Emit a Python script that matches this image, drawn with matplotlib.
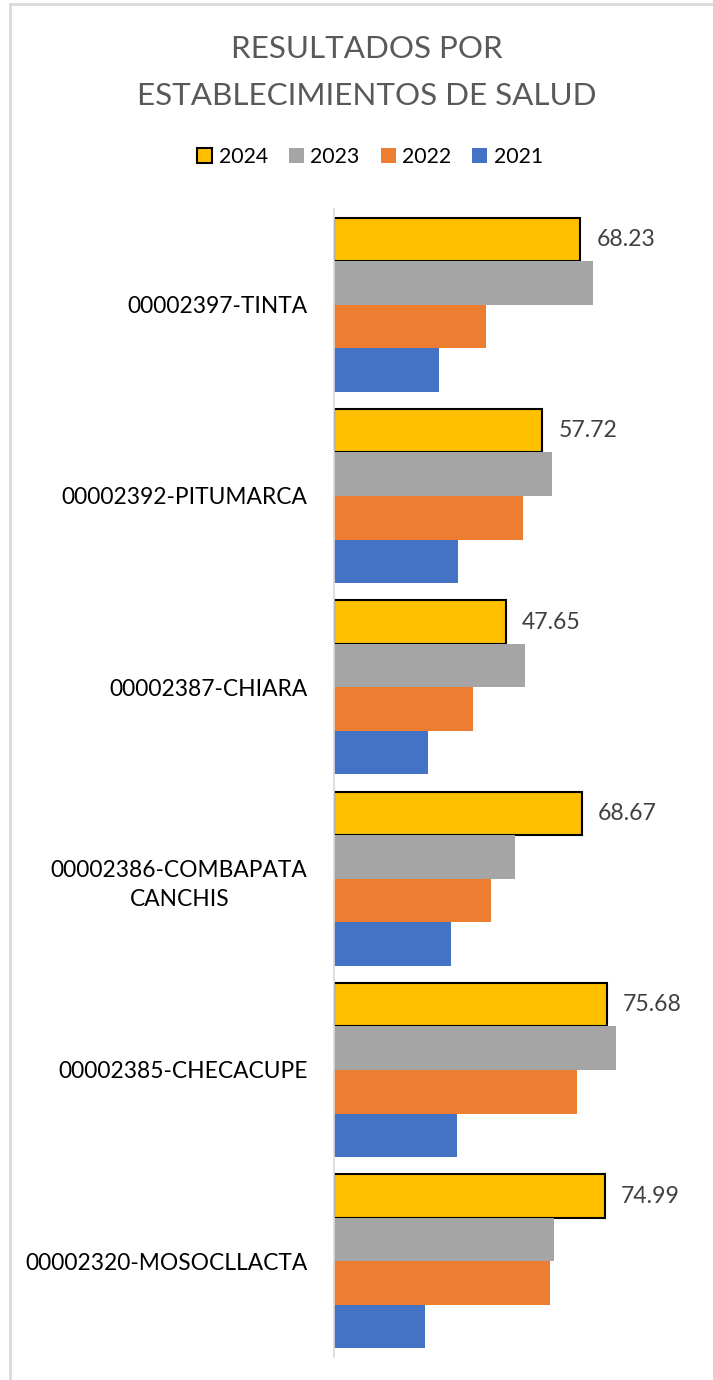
import matplotlib.pyplot as plt
from matplotlib.patches import Patch
from matplotlib.lines import Line2D
import numpy as np

plt.rcParams['font.family'] = ['Lato', 'DejaVu Sans']

establecimientos = ['00002397-TINTA', '00002392-PITUMARCA', '00002387-CHIARA',
                    '00002386-COMBAPATA\nCANCHIS', '00002385-CHECACUPE',
                    '00002320-MOSOCLLACTA']
anios = ['2024', '2023', '2022', '2021']
v2024 = [68.23, 57.72, 47.65, 68.67, 75.68, 74.99]
v2023 = [71.7, 60.4, 52.9, 50.0, 78.2, 60.9]
v2022 = [42.0, 52.4, 38.5, 43.6, 67.4, 59.9]
v2021 = [29.0, 34.3, 26.0, 32.4, 34.2, 25.3]
colores = ['#FFC000', '#A5A5A5', '#ED7D31', '#4472C4']

series = [v2024, v2023, v2022, v2021]

W, H = 713, 1380
fig = plt.figure(figsize=(W / 100, H / 100), dpi=100)
ax = fig.add_axes([334 / W, 23 / H, 361 / W, 1148 / H])

y = np.arange(len(establecimientos))
h = 0.2274
offs = [-1.5 * h, -0.5 * h, 0.5 * h, 1.5 * h]
for vals, col, off, anio in zip(series, colores, offs, anios):
    if anio == '2024':
        ax.barh(y + off, vals, height=h, color=col, edgecolor='black', linewidth=1.5)
    else:
        ax.barh(y + off, vals, height=h, color=col, linewidth=0)

# etiquetas solo para 2024
for yi, v in zip(y, v2024):
    ax.annotate(f'{v:.2f}', (v, yi + offs[0]), xytext=(11.5, 0), textcoords='offset points',
                ha='left', va='center', fontsize=16.6, color='#404040')

ax.set_xlim(0, 100)
ax.set_ylim(len(establecimientos) - 0.5, -0.5)
ax.set_yticks(y)
ax.set_yticklabels(establecimientos, fontsize=16.4, color='black',
                   multialignment='center', linespacing=1.5)
ax.tick_params(axis='y', length=0, pad=19)
ax.set_xticks([])
for s in ['top', 'right', 'bottom']:
    ax.spines[s].set_visible(False)
ax.spines['left'].set_color('#D9D9D9')
ax.spines['left'].set_linewidth(1.2)

fig.text(367 / W, 1 - 49 / H, 'RESULTADOS POR', ha='center', va='center',
         fontsize=22.6, color='#595959')
fig.text(367 / W, 1 - 96 / H, 'ESTABLECIMIENTOS DE SALUD', ha='center', va='center',
         fontsize=22.6, color='#595959')

handles = [Patch(facecolor=c, edgecolor='black' if a == '2024' else c,
                 linewidth=1.5 if a == '2024' else 0, label=a)
           for c, a in zip(colores, anios)]
fig.legend(handles=handles, loc='center', bbox_to_anchor=(370 / W, 1 - 157 / H), ncol=4,
           frameon=False, fontsize=15.3, handlelength=0.7, handleheight=0.7,
           handletextpad=0.3, columnspacing=1.0)

# borde del área del gráfico
fig.add_artist(Line2D([10 / W, 10 / W], [0, 1 - 4 / H], color='#D9D9D9', lw=2,
                      transform=fig.transFigure))
fig.add_artist(Line2D([10 / W, 1], [1 - 4 / H, 1 - 4 / H], color='#D9D9D9', lw=2,
                      transform=fig.transFigure))

fig.savefig('out.png', dpi=100, facecolor='white')
